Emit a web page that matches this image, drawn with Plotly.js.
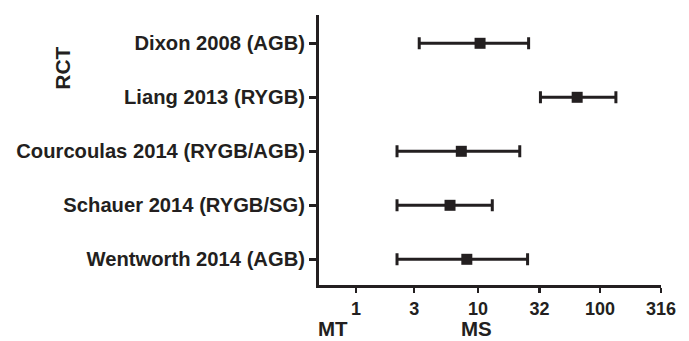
<!DOCTYPE html>
<html>
<head>
<meta charset="utf-8">
<script src="https://cdn.plot.ly/plotly-3.0.1.min.js"></script>
<style>html,body{margin:0;padding:0;background:#fff;}#chart{width:689px;height:341px;}</style>
</head>
<body>
<div id="chart"></div>
<script>
const studies = ["Dixon 2008 (AGB)", "Liang 2013 (RYGB)", "Courcoulas 2014 (RYGB/AGB)", "Schauer 2014 (RYGB/SG)", "Wentworth 2014 (AGB)"];
const estimate = [10.4, 65, 7.3, 5.9, 8.1];
const lower = [3.3, 32.5, 2.17, 2.17, 2.17];
const upper = [26, 135, 22, 13.1, 25.5];
const xTicks = [1, 3, 10, 32, 100, 316];
const xTickText = ["1", "3", "10", "32", "100", "316"];

const ink = "#231f20";
const fontFam = "Liberation Sans, Arial, sans-serif";

const trace = {
  type: "scatter",
  mode: "markers",
  x: estimate,
  y: studies,
  marker: {symbol: "square", size: 11, color: ink},
  error_x: {
    type: "data",
    symmetric: false,
    array: upper.map((u, i) => u - estimate[i]),
    arrayminus: lower.map((l, i) => estimate[i] - l),
    color: ink,
    thickness: 3,
    width: 6
  },
  showlegend: false,
  hoverinfo: "x+y"
};

const refLine = {
  type: "scatter",
  mode: "lines",
  x: [1, 1],
  y: [-0.524, 4.476],
  line: {color: ink, width: 2, dash: "dot"},
  showlegend: false,
  hoverinfo: "skip"
};

const layout = {
  width: 689,
  height: 341,
  margin: {l: 319, r: 28, t: 15, b: 56},
  paper_bgcolor: "#fff",
  plot_bgcolor: "#fff",
  font: {family: fontFam, color: ink, size: 18, weight: "bold"},
  xaxis: {
    type: "log",
    range: [-0.303, 2.5],
    tickvals: xTicks,
    ticktext: xTickText,
    showgrid: false,
    zeroline: false,
    showline: true,
    linecolor: ink,
    linewidth: 3,
    ticks: "outside",
    ticklen: 5,
    tickwidth: 2.5,
    tickcolor: ink,
    tickfont: {family: fontFam, size: 18, color: ink, weight: "bold"}
  },
  yaxis: {
    type: "category",
    categoryorder: "array",
    categoryarray: studies,
    range: [4.476, -0.524],
    showgrid: false,
    zeroline: false,
    showline: true,
    linecolor: ink,
    linewidth: 3,
    ticks: "outside",
    ticklen: 7,
    tickwidth: 2.5,
    tickcolor: ink,
    tickfont: {family: fontFam, size: 20.2, color: ink, weight: "bold"}
  },
  annotations: [
    {text: "RCT", xref: "paper", yref: "paper", x: -0.749, y: 0.804, textangle: -90, showarrow: false,
     font: {family: fontFam, size: 21, color: ink, weight: "bold"}, xanchor: "center", yanchor: "middle"},
    {text: "MT", xref: "paper", yref: "paper", x: 0.0395, y: -0.2074, showarrow: false, borderpad: 0,
     font: {family: fontFam, size: 20.5, color: ink, weight: "bold"}, xanchor: "center", yanchor: "bottom"},
    {text: "MS", xref: "paper", yref: "paper", x: 0.46, y: -0.2074, showarrow: false, borderpad: 0,
     font: {family: fontFam, size: 20.5, color: ink, weight: "bold"}, xanchor: "center", yanchor: "bottom"}
  ]
};

Plotly.newPlot("chart", [refLine, trace], layout, {displayModeBar: false, staticPlot: true});
</script>
</body>
</html>
